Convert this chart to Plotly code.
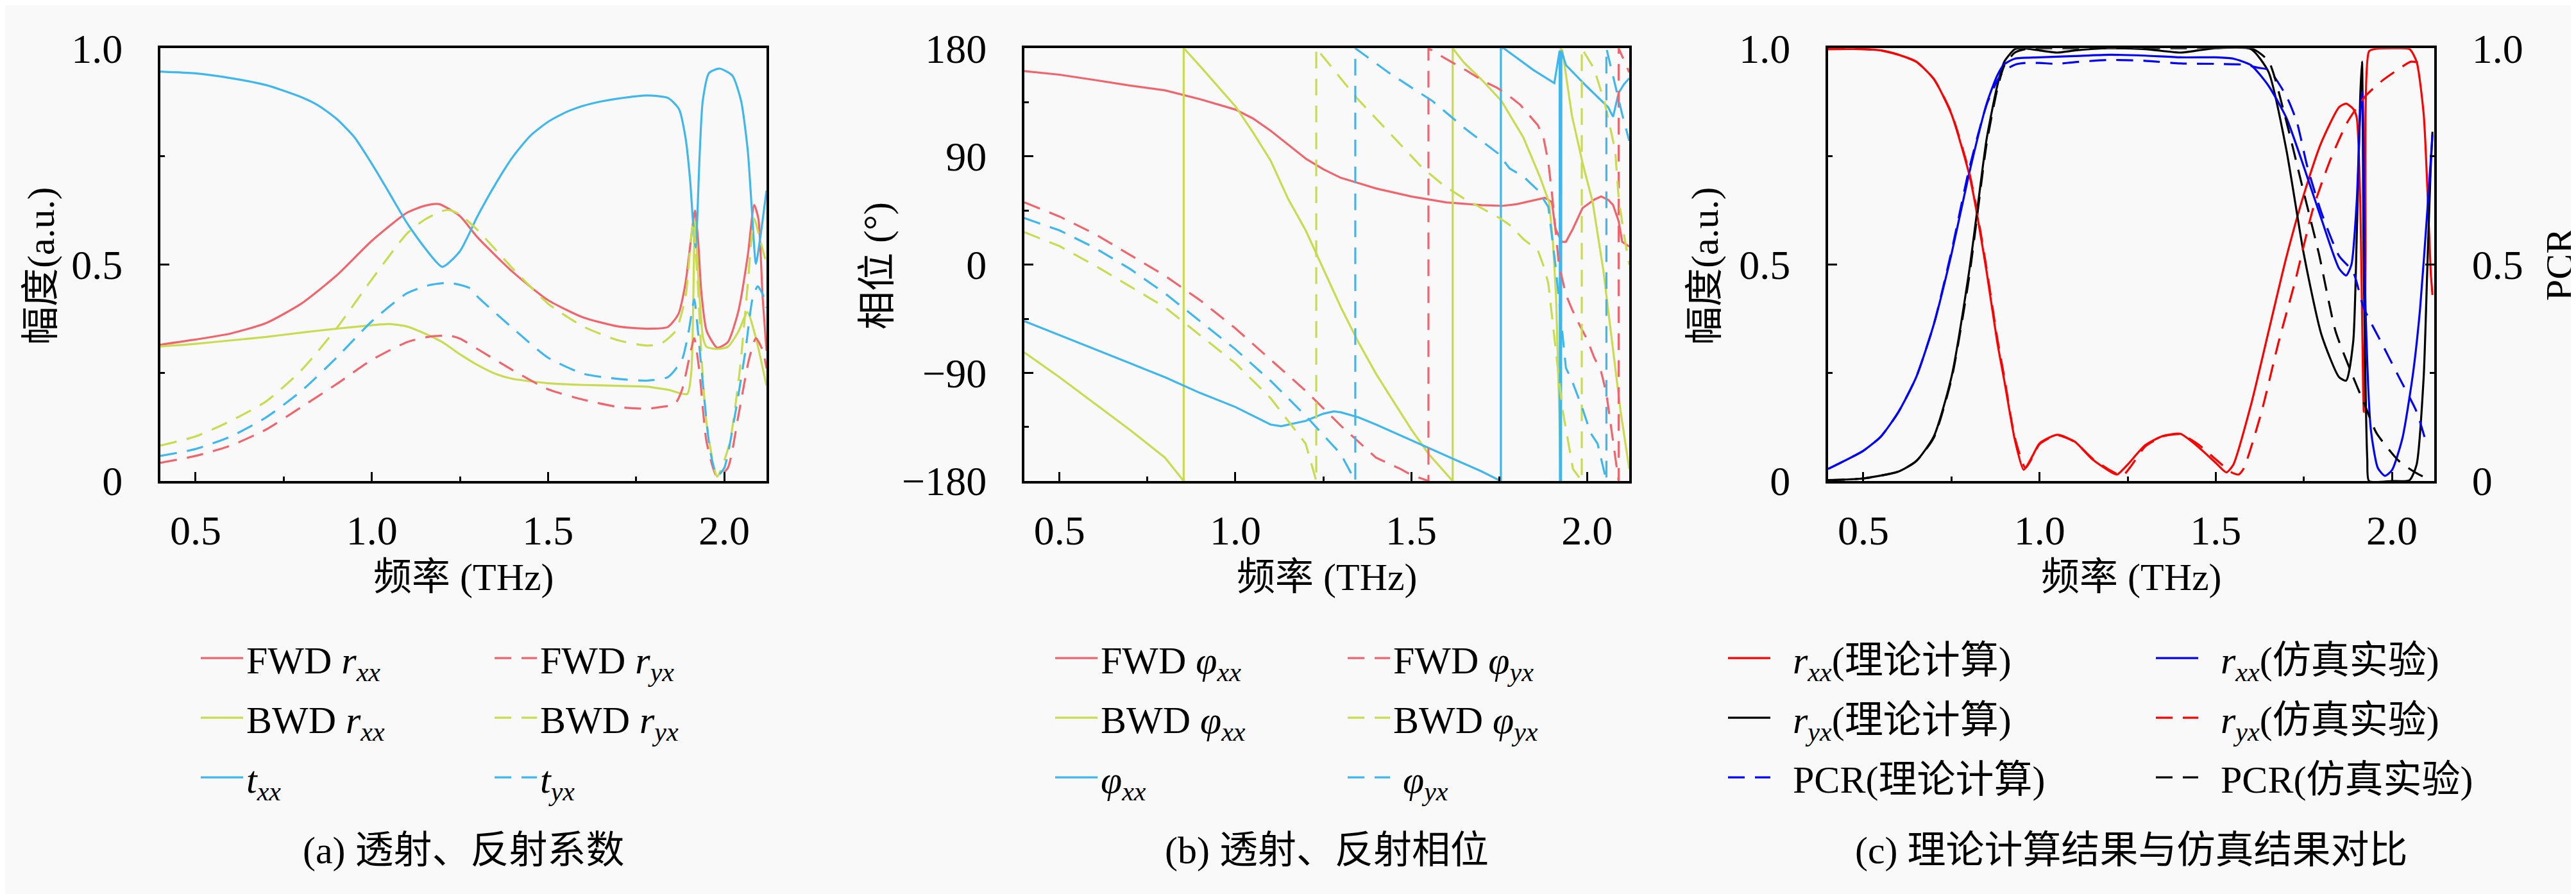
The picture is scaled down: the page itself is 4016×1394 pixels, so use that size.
import plotly.graph_objects as go

# ---------------------------------------------------------------- data (a)
A_F_FWD_RXX = [0.40, 0.50, 0.60, 0.70, 0.80, 0.90, 1.00, 1.10, 1.15, 1.19, 1.25, 1.30, 1.40, 1.50, 1.60, 1.70,
               1.78, 1.84, 1.87, 1.89, 1.905, 1.917, 1.926, 1.935, 1.95, 1.98, 2.01, 2.04, 2.067, 2.085, 2.097,
               2.109, 2.12]
A_V_FWD_RXX = [0.315, 0.327, 0.341, 0.365, 0.41, 0.475, 0.555, 0.62, 0.636, 0.64, 0.612, 0.563, 0.483, 0.418,
               0.378, 0.357, 0.352, 0.356, 0.386, 0.457, 0.554, 0.625, 0.554, 0.437, 0.347, 0.308, 0.321, 0.392,
               0.522, 0.638, 0.606, 0.424, 0.301]

A_F_BWD_RXX = [0.40, 0.50, 0.60, 0.70, 0.80, 0.90, 1.00, 1.05, 1.10, 1.15, 1.20, 1.25, 1.30, 1.35, 1.40, 1.50,
               1.60, 1.70, 1.78, 1.84, 1.895, 1.907, 1.917, 1.928, 1.94, 1.95, 1.98, 2.01, 2.04, 2.066, 2.09, 2.12]
A_V_BWD_RXX = [0.311, 0.317, 0.325, 0.333, 0.343, 0.352, 0.36, 0.363, 0.357, 0.341, 0.321, 0.293, 0.268, 0.248,
               0.236, 0.226, 0.222, 0.220, 0.218, 0.211, 0.201, 0.256, 0.60, 0.45, 0.33, 0.31, 0.305, 0.31, 0.345,
               0.39, 0.33, 0.22]

A_F_TXX = [0.40, 0.50, 0.60, 0.70, 0.80, 0.85, 0.90, 0.95, 1.00, 1.05, 1.10, 1.15, 1.20, 1.25, 1.30, 1.35, 1.40,
           1.45, 1.50, 1.55, 1.60, 1.65, 1.70, 1.78, 1.841, 1.872, 1.89, 1.903, 1.912, 1.919, 1.93, 1.939, 1.957,
           1.987, 2.023, 2.048, 2.067, 2.078, 2.09, 2.103, 2.12]
A_V_TXX = [0.946, 0.942, 0.931, 0.915, 0.887, 0.867, 0.837, 0.795, 0.733, 0.665, 0.596, 0.539, 0.495, 0.531,
           0.612, 0.685, 0.749, 0.798, 0.830, 0.852, 0.867, 0.877, 0.884, 0.891, 0.885, 0.859, 0.794, 0.697,
           0.593, 0.54, 0.749, 0.878, 0.943, 0.953, 0.937, 0.878, 0.762, 0.632, 0.502, 0.567, 0.671]

A_F_FWD_RYX = [0.40, 0.50, 0.60, 0.70, 0.80, 0.90, 1.00, 1.10, 1.16, 1.22, 1.25, 1.30, 1.40, 1.50, 1.60, 1.70,
               1.78, 1.82, 1.86, 1.88, 1.905, 1.915, 1.93, 1.95, 1.98, 2.01, 2.04, 2.07, 2.09, 2.11, 2.12]
A_V_FWD_RYX = [0.042, 0.058, 0.082, 0.119, 0.171, 0.224, 0.28, 0.321, 0.333, 0.336, 0.329, 0.305, 0.256, 0.212,
               0.188, 0.171, 0.167, 0.171, 0.178, 0.21, 0.30, 0.33, 0.25, 0.09, 0.01, 0.03, 0.15, 0.28, 0.33,
               0.30, 0.26]

A_F_BWD_RYX = [0.40, 0.50, 0.60, 0.70, 0.80, 0.90, 1.00, 1.10, 1.15, 1.20, 1.22, 1.25, 1.30, 1.40, 1.50, 1.60,
               1.70, 1.78, 1.82, 1.862, 1.89, 1.905, 1.912, 1.925, 1.935, 1.95, 1.98, 2.015, 2.045, 2.067, 2.085,
               2.103, 2.12]
A_V_BWD_RYX = [0.082, 0.103, 0.139, 0.184, 0.256, 0.353, 0.466, 0.572, 0.604, 0.624, 0.626, 0.616, 0.58, 0.491,
               0.41, 0.357, 0.325, 0.313, 0.317, 0.347, 0.424, 0.554, 0.60, 0.457, 0.295, 0.133, 0.01, 0.087,
               0.262, 0.457, 0.606, 0.554, 0.502]

A_F_TYX = [0.40, 0.50, 0.60, 0.70, 0.80, 0.90, 1.00, 1.10, 1.16, 1.22, 1.28, 1.30, 1.40, 1.50, 1.60, 1.70, 1.78,
           1.84, 1.88, 1.90, 1.915, 1.925, 1.94, 1.96, 1.98, 2.00, 2.03, 2.06, 2.08, 2.095, 2.11, 2.12]
A_V_TYX = [0.058, 0.074, 0.103, 0.147, 0.208, 0.285, 0.369, 0.434, 0.452, 0.458, 0.445, 0.426, 0.353, 0.285,
           0.248, 0.236, 0.232, 0.24, 0.28, 0.35, 0.42, 0.35, 0.22, 0.07, 0.012, 0.03, 0.15, 0.30, 0.42, 0.45,
           0.43, 0.40]

# ---------------------------------------------------------------- data (b), degrees, wraps kept as drawn
B_F_FWD_PXX = [0.40, 0.50, 0.60, 0.70, 0.80, 0.90, 1.00, 1.05, 1.10, 1.15, 1.20, 1.25, 1.30, 1.35, 1.40, 1.50,
               1.60, 1.70, 1.76, 1.80, 1.85, 1.88, 1.90, 1.91, 1.928, 1.94, 1.96, 1.987, 2.02, 2.04, 2.06, 2.074,
               2.09, 2.10, 2.12]
B_V_FWD_PXX = [161, 158, 153.6, 149, 145, 137.6, 129, 121.6, 111.5, 99.8, 88.2, 79.4, 72.2, 67.8, 63.4, 56.7,
               51.8, 49.5, 48.9, 50.3, 53.8, 55.6, 52, 30, 19, 19, 30, 47, 54, 56.7, 54, 49.6, 36, 19, 15]

B_F_BWD_PXX = [0.40, 0.50, 0.60, 0.70, 0.80, 0.853, 0.853, 0.86, 0.90, 1.00, 1.05, 1.10, 1.15, 1.20, 1.25, 1.30,
               1.35, 1.40, 1.45, 1.50, 1.55, 1.618, 1.618, 1.65, 1.70, 1.757, 1.819, 1.866, 1.892, 1.903, 1.912,
               1.921, 1.925, 1.925, 1.93, 1.957, 1.987, 2.016, 2.046, 2.07, 2.095, 2.12]
B_V_BWD_PXX = [-73, -93.7, -115.5, -137.4, -160.6, -180, 180, 178, 165, 131.8, 110, 86.7, 54.7, 28.5, -3.5,
               -35.5, -64.6, -90.8, -114, -137, -157.7, -180, 180, 168, 154, 136, 105.7, 73, 52, 19, -27, -121,
               -180, 180, 178, 124, 85, 52, -4, -62.5, -121, -170]

B_F_PXX = [0.40, 0.50, 0.60, 0.70, 0.80, 0.90, 1.00, 1.05, 1.10, 1.13, 1.20, 1.25, 1.28, 1.30, 1.35, 1.40, 1.50,
           1.60, 1.70, 1.755, 1.755, 1.763, 1.848, 1.907, 1.915, 1.922, 1.923, 1.926, 1.927, 1.94, 2.00, 2.06,
           2.074, 2.09, 2.105, 2.12]
B_V_PXX = [-47, -58.8, -70.4, -82, -93.7, -106.8, -118.4, -125.7, -133, -134.4, -130, -124, -122, -122.8, -127,
           -133, -146, -159.2, -172, -180, 180, 180, 161.8, 151, 165, 178, -180, -180, 178, 166, 148, 131, 123,
           143, 150, 155]

B_F_FWD_PYX = [0.40, 0.50, 0.60, 0.70, 0.80, 0.90, 1.00, 1.10, 1.20, 1.30, 1.40, 1.47, 1.50, 1.53, 1.549, 1.549,
               1.60, 1.654, 1.71, 1.745, 1.78, 1.81, 1.86, 1.876, 1.89, 1.90, 1.92, 1.94, 1.957, 1.98, 2.00, 2.02,
               2.04, 2.055, 2.07, 2.085, 2.09, 2.09, 2.12]
B_V_FWD_PYX = [51.8, 40, 25.6, 8.1, -9.3, -29.7, -53, -79, -105, -134, -160.6, -170, -175, -178, -180, 180, 171,
               162, 152, 147, 140, 133, 116, 106, 85, 60, 0, -25, -37, -51, -62, -77, -89, -107, -140, -170, -180,
               180, 160]

B_F_BWD_PYX = [0.40, 0.50, 0.60, 0.70, 0.80, 0.90, 1.00, 1.10, 1.20, 1.23, 1.23, 1.344, 1.437, 1.53, 1.592, 1.65,
               1.75, 1.78, 1.82, 1.86, 1.88, 1.89, 1.93, 1.96, 1.985, 1.985, 2.02, 2.05, 2.08, 2.09, 2.105, 2.12]
B_V_BWD_PYX = [27, 15.4, -0.6, -18, -35.5, -58.8, -82, -111, -149, -180, 180, 139, 110, 81, 66, 55, 39, 33, 21,
               12, -4, -16, -120, -170, -180, 180, 163, 135, 95, 55, 25, 0]

B_F_PYX = [0.40, 0.50, 0.60, 0.70, 0.80, 0.90, 1.00, 1.10, 1.20, 1.30, 1.341, 1.341, 1.437, 1.561, 1.654, 1.747,
           1.78, 1.82, 1.86, 1.89, 1.91, 1.94, 1.955, 1.985, 2.01, 2.03, 2.055, 2.055, 2.08, 2.10, 2.12]
B_V_PYX = [38.7, 28.5, 14, -3.5, -23.9, -47, -70.4, -96.6, -125.7, -157.7, -180, 180, 159.5, 136, 113, 92.5, 80,
           73, 62, 48, 0, -86, -95, -118, -140, -149, -180, 180, 150, 125, 103]

# ---------------------------------------------------------------- data (c)
C_F_RXX_TH = [0.40, 0.50, 0.55, 0.60, 0.65, 0.70, 0.75, 0.80, 0.82, 0.85, 0.88, 0.90, 0.93, 0.955, 0.98, 1.00,
              1.05, 1.10, 1.15, 1.20, 1.22, 1.25, 1.30, 1.35, 1.40, 1.45, 1.50, 1.53, 1.55, 1.60, 1.65, 1.70, 1.75,
              1.80, 1.85, 1.87, 1.89, 1.90, 1.91, 1.92, 1.925, 1.935, 1.95, 2.00, 2.05, 2.07, 2.09, 2.10, 2.11,
              2.115]
C_V_RXX_TH = [0.998, 0.998, 0.995, 0.985, 0.969, 0.929, 0.848, 0.71, 0.629, 0.483, 0.321, 0.232, 0.095, 0.026,
              0.058, 0.087, 0.107, 0.091, 0.05, 0.022, 0.015, 0.038, 0.083, 0.104, 0.109, 0.079, 0.042, 0.02, 0.038,
              0.176, 0.346, 0.516, 0.662, 0.783, 0.864, 0.872, 0.86, 0.84, 0.645, 0.16, 0.5, 0.993, 0.998, 1.0,
              0.998, 0.969, 0.848, 0.686, 0.483, 0.43]

C_F_RYX_TH = [0.40, 0.50, 0.60, 0.65, 0.70, 0.75, 0.80, 0.82, 0.85, 0.88, 0.90, 0.93, 0.95, 1.00, 1.05, 1.10,
              1.20, 1.30, 1.40, 1.45, 1.50, 1.60, 1.65, 1.70, 1.75, 1.80, 1.85, 1.87, 1.89, 1.90, 1.91, 1.915, 1.92,
              1.93, 1.935, 2.00, 2.05, 2.07, 2.09, 2.10, 2.11, 2.115]
C_V_RYX_TH = [0.002, 0.006, 0.022, 0.046, 0.103, 0.24, 0.483, 0.605, 0.791, 0.913, 0.969, 0.998, 1.0, 0.995,
              0.99, 0.995, 1.0, 0.998, 0.99, 0.995, 1.0, 0.998, 0.945, 0.767, 0.524, 0.338, 0.24, 0.232, 0.321,
              0.564, 0.888, 0.969, 0.5, 0.05, 0.0, 0.0, 0.002, 0.038, 0.24, 0.483, 0.726, 0.807]

C_F_PCR_TH = [0.40, 0.50, 0.55, 0.60, 0.65, 0.70, 0.75, 0.80, 0.85, 0.88, 0.90, 0.93, 0.96, 1.00, 1.05, 1.10,
              1.20, 1.30, 1.40, 1.50, 1.58, 1.62, 1.65, 1.70, 1.73, 1.76, 1.80, 1.85, 1.89, 1.92, 1.97, 2.02, 2.07,
              2.10]
C_V_PCR_TH = [0.028, 0.07, 0.103, 0.16, 0.24, 0.362, 0.53, 0.72, 0.87, 0.925, 0.948, 0.962, 0.966, 0.966, 0.964,
              0.968, 0.973, 0.971, 0.965, 0.964, 0.962, 0.955, 0.95, 0.89, 0.83, 0.726, 0.62, 0.52, 0.483, 0.40,
              0.32, 0.24, 0.16, 0.08]

C_F_RXX_SIM = [0.40, 0.50, 0.55, 0.60, 0.65, 0.70, 0.75, 0.80, 0.85, 0.88, 0.90, 0.93, 1.00, 1.10, 1.20, 1.30,
               1.40, 1.50, 1.55, 1.60, 1.65, 1.70, 1.75, 1.80, 1.85, 1.87, 1.885, 1.90, 1.91, 1.916, 1.925, 1.94,
               1.96, 1.98, 2.00, 2.03, 2.06, 2.08, 2.10, 2.115]
C_V_RXX_SIM = [0.028, 0.07, 0.103, 0.16, 0.24, 0.362, 0.524, 0.71, 0.872, 0.937, 0.963, 0.976, 0.979, 0.982,
               0.985, 0.983, 0.979, 0.979, 0.976, 0.961, 0.913, 0.84, 0.726, 0.605, 0.491, 0.475, 0.5, 0.645, 0.848,
               0.9, 0.4, 0.12, 0.03, 0.012, 0.025, 0.1, 0.25, 0.4, 0.62, 0.8]

C_F_RYX_SIM = [0.40, 0.50, 0.55, 0.60, 0.65, 0.70, 0.75, 0.80, 0.82, 0.85, 0.88, 0.90, 0.93, 0.96, 0.98, 1.00,
               1.05, 1.10, 1.15, 1.20, 1.235, 1.26, 1.30, 1.35, 1.40, 1.45, 1.50, 1.545, 1.565, 1.58, 1.63, 1.678,
               1.727, 1.776, 1.825, 1.874, 1.923, 1.972, 2.021, 2.054, 2.087, 2.10]
C_V_RYX_SIM = [0.998, 0.998, 0.995, 0.985, 0.969, 0.929, 0.85, 0.715, 0.635, 0.49, 0.33, 0.24, 0.1, 0.03, 0.055,
               0.085, 0.106, 0.09, 0.052, 0.025, 0.012, 0.035, 0.08, 0.103, 0.108, 0.085, 0.05, 0.02, 0.015, 0.03,
               0.16, 0.32, 0.467, 0.629, 0.742, 0.83, 0.888, 0.925, 0.953, 0.969, 0.965, 0.965]

C_F_PCR_SIM = [0.40, 0.50, 0.60, 0.65, 0.70, 0.75, 0.80, 0.85, 0.88, 0.90, 0.93, 0.96, 1.00, 1.20, 1.40, 1.60,
               1.65, 1.695, 1.744, 1.793, 1.84, 1.89, 1.923, 1.956, 2.02, 2.07, 2.10]
C_V_PCR_SIM = [0.002, 0.006, 0.022, 0.046, 0.1, 0.235, 0.47, 0.78, 0.905, 0.96, 0.99, 0.998, 1.0, 1.0, 1.0, 1.0,
               0.97, 0.848, 0.686, 0.524, 0.346, 0.24, 0.176, 0.111, 0.046, 0.018, 0.006]

X_TICKS = [0.5, 1.0, 1.5, 2.0]
X_TICK_TEXT = ["0.5", "1.0", "1.5", "2.0"]
AMP_TICKS = [0, 0.5, 1.0]
AMP_TICK_TEXT = ["0", "0.5", "1.0"]
PHASE_TICKS = [-180, -90, 0, 90, 180]
PHASE_TICK_TEXT = ["−180", "−90", "0", "90", "180"]

# ---------------------------------------------------------------- styling
W, H = 4016, 1394
FONT = "Liberation Serif, Noto Sans CJK SC, serif"
FS = 60
TICK_FS = 64
RED = "#f2646c"
YEL = "#c9db4e"
CYA = "#3db7ee"
LONG_DASH = "26px,16px"
NB = "\u00a0"

X_DOMS = [(242, 1187), (1589, 2532), (2842, 3787)]
Y_DOM = [1 - 745 / H, 1 - 34 / H]


def px(x):
    return x / W


def py(y):
    return 1 - y / H


fig = go.Figure()


def add_line(x, y, name, color, dash, xa, ya, legend, width=3.2, shape="spline"):
    fig.add_trace(go.Scatter(
        x=x, y=y, name=name, mode="lines",
        line=dict(color=color, width=width, dash=dash, shape=shape, smoothing=0.6),
        xaxis=xa, yaxis=ya, legend=legend, legendgroup=name,
    ))


# (a)
add_line(A_F_FWD_RXX, A_V_FWD_RXX, "FWD <i>r</i><sub><i>xx</i></sub>", RED, "solid", "x", "y", "legend")
add_line(A_F_BWD_RXX, A_V_BWD_RXX, "BWD <i>r</i><sub><i>xx</i></sub>", YEL, "solid", "x", "y", "legend")
add_line(A_F_TXX, A_V_TXX, "<i>t</i><sub><i>xx</i></sub>", CYA, "solid", "x", "y", "legend")
add_line(A_F_FWD_RYX, A_V_FWD_RYX, "FWD <i>r</i><sub><i>yx</i></sub>", RED, LONG_DASH, "x", "y", "legend2")
add_line(A_F_BWD_RYX, A_V_BWD_RYX, "BWD <i>r</i><sub><i>yx</i></sub>", YEL, LONG_DASH, "x", "y", "legend2")
add_line(A_F_TYX, A_V_TYX, "<i>t</i><sub><i>yx</i></sub>", CYA, LONG_DASH, "x", "y", "legend2")

# (b)
add_line(B_F_FWD_PXX, B_V_FWD_PXX, "FWD <i>φ</i><sub><i>xx</i></sub>", RED, "solid", "x2", "y2", "legend3",
         shape="linear")
add_line(B_F_BWD_PXX, B_V_BWD_PXX, "BWD <i>φ</i><sub><i>xx</i></sub>", YEL, "solid", "x2", "y2", "legend3",
         shape="linear")
add_line(B_F_PXX, B_V_PXX, "<i>φ</i><sub><i>xx</i></sub>", CYA, "solid", "x2", "y2", "legend3", shape="linear")
add_line(B_F_FWD_PYX, B_V_FWD_PYX, "FWD <i>φ</i><sub><i>yx</i></sub>", RED, LONG_DASH, "x2", "y2", "legend4",
         shape="linear")
add_line(B_F_BWD_PYX, B_V_BWD_PYX, "BWD <i>φ</i><sub><i>yx</i></sub>", YEL, LONG_DASH, "x2", "y2", "legend4",
         shape="linear")
add_line(B_F_PYX, B_V_PYX, NB + "<i>φ</i><sub><i>yx</i></sub>", CYA, LONG_DASH, "x2", "y2", "legend4",
         shape="linear")

# (c)
add_line(C_F_RXX_TH, C_V_RXX_TH, NB * 2 + "<i>r</i><sub><i>xx</i></sub>(理论计算)", "#ff0000", "solid", "x3",
         "y3", "legend5")
add_line(C_F_RYX_TH, C_V_RYX_TH, NB * 2 + "<i>r</i><sub><i>yx</i></sub>(理论计算)", "#000000", "solid", "x3",
         "y3", "legend5")
add_line(C_F_PCR_TH, C_V_PCR_TH, NB * 2 + "PCR(理论计算)", "#0000ff", LONG_DASH, "x3", "y4", "legend5")
add_line(C_F_RXX_SIM, C_V_RXX_SIM, NB * 2 + "<i>r</i><sub><i>xx</i></sub>(仿真实验)", "#0000ff", "solid", "x3",
         "y3", "legend6")
add_line(C_F_RYX_SIM, C_V_RYX_SIM, NB * 2 + "<i>r</i><sub><i>yx</i></sub>(仿真实验)", "#ff0000", LONG_DASH,
         "x3", "y3", "legend6")
add_line(C_F_PCR_SIM, C_V_PCR_SIM, NB * 2 + "PCR(仿真实验)", "#000000", LONG_DASH, "x3", "y4", "legend6")


def axis_style(tickvals, ticktext, minor_vals, **kw):
    return dict(
        showline=True, linewidth=4, linecolor="black", mirror=True,
        ticks="inside", ticklen=14, tickwidth=3, tickcolor="black",
        tickvals=tickvals, ticktext=ticktext,
        minor=dict(ticks="inside", ticklen=7, tickwidth=3, tickcolor="black", tickvals=minor_vals),
        showgrid=False, zeroline=False, ticklabeloverflow="allow",
        tickfont=dict(family=FONT, size=TICK_FS, color="black"),
        **kw,
    )


x_minor = [0.75, 1.25, 1.75]
for i, (x0, x1) in enumerate(X_DOMS):
    key = "xaxis" if i == 0 else f"xaxis{i + 1}"
    fig.layout[key] = axis_style(X_TICKS, X_TICK_TEXT, x_minor, domain=[px(x0), px(x1)], range=[0.4, 2.12],
                                 anchor="y" if i == 0 else f"y{i + 1}", ticklabelstandoff=18)

fig.layout.yaxis = axis_style(AMP_TICKS, AMP_TICK_TEXT, [0.25, 0.75], domain=Y_DOM, range=[0, 1], anchor="x",
                              ticklabelstandoff=42)
fig.layout.yaxis2 = axis_style(PHASE_TICKS, PHASE_TICK_TEXT, [-135, -45, 45, 135],
                               domain=Y_DOM, range=[-180, 180], anchor="x2", ticklabelstandoff=42)
fig.layout.yaxis3 = axis_style(AMP_TICKS, AMP_TICK_TEXT, [0.25, 0.75], domain=Y_DOM, range=[0, 1], anchor="x3",
                               ticklabelstandoff=42)
fig.layout.yaxis4 = axis_style(AMP_TICKS, AMP_TICK_TEXT, [0.25, 0.75], range=[0, 1], anchor="x3",
                               overlaying="y3", side="right", ticklabelstandoff=42)
fig.layout.yaxis4.mirror = False

# legends: two columns under each panel
legend_cols = [("legend", 300), ("legend2", 758), ("legend3", 1632), ("legend4", 2088),
               ("legend5", 2681), ("legend6", 3348)]
for name, x in legend_cols:
    fig.layout[name] = dict(
        x=px(x), y=py(988), xanchor="left", yanchor="top",
        bgcolor="rgba(0,0,0,0)", borderwidth=0,
        font=dict(family=FONT, size=FS, color="black"),
        traceorder="grouped", tracegroupgap=12, itemwidth=66,
    )

annotations = []


def text(x, y, s, angle=0):
    annotations.append(dict(x=px(x), y=py(y), xref="paper", yref="paper", text=s, showarrow=False,
                            textangle=angle, xanchor="center", yanchor="middle",
                            font=dict(family=FONT, size=FS, color="black")))


for (x0, x1), cap in zip(X_DOMS, ["(a) 透射、反射系数", "(b) 透射、反射相位", "(c) 理论计算结果与仿真结果对比"]):
    text((x0 + x1) / 2, 903, "频率 (THz)")
    text((x0 + x1) / 2, 1352, cap)

text(56, 392, "幅度(a.u.)", -90)
text(1360, 392, "相位 (°)", -90)
text(2650, 392, "幅度(a.u.)", -90)
text(3982, 390, "PCR", -90)

fig.update_layout(
    width=W, height=H, margin=dict(l=0, r=0, t=0, b=0),
    paper_bgcolor="#f9f9f9", plot_bgcolor="#f9f9f9",
    showlegend=True, annotations=annotations,
    font=dict(family=FONT, size=FS, color="black"),
)

fig.write_html("out.html")
